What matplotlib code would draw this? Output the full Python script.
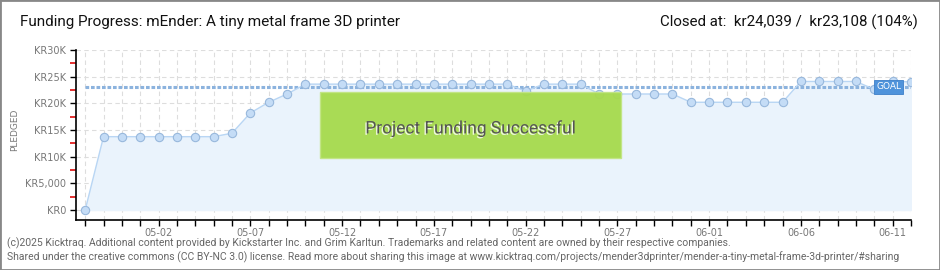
import numpy as np
import pandas as pd
import matplotlib
matplotlib.use("Agg")
import matplotlib.pyplot as plt
import matplotlib.patches as mpatches
import matplotlib.patheffects as pe
from matplotlib.ticker import FixedLocator

# ---- data ----
dates = pd.date_range("2025-04-28", "2025-06-12", freq="D")
pledged = [
    0, 13750, 13750, 13750, 13750, 13750, 13750, 13750, 14400, 18200,
    20200, 21750, 23600, 23600, 23600, 23600, 23600, 23600, 23600, 23600,
    23600, 23600, 23600, 23600, 22300, 23600, 23600, 23600, 21750, 21750,
    21750, 21750, 21750, 20200, 20200, 20200, 20200, 20200, 20200, 24100,
    24100, 24100, 24100, 22600, 24100, 24039,
]
goal = 23108
ytick_vals = [0, 5000, 10000, 15000, 20000, 25000, 30000]
ytick_labels = ["KR0", "KR5,000", "KR10K", "KR15K", "KR20K", "KR25K", "KR30K"]
ytick_minor = [2500, 7500, 12500, 17500, 22500, 27500]
xlabel_every = 5
title = "Funding Progress: mEnder: A tiny metal frame 3D printer"
closed = "Closed at:  kr24,039 /  kr23,108 (104%)"
footer1 = ("(c)2025 Kicktraq. Additional content provided by Kickstarter Inc. and Grim Karltun. "
           "Trademarks and related content are owned by their respective companies.")
footer2 = ("Shared under the creative commons (CC BY-NC 3.0) license. Read more about sharing this image at "
           "www.kicktraq.com/projects/mender3dprinter/mender-a-tiny-metal-frame-3d-printer/#sharing")

plt.rcParams.update({
    "font.family": ["Roboto", "DejaVu Sans"],
    "figure.facecolor": "white",
    "axes.facecolor": "white",
})

fig = plt.figure(figsize=(9.4, 2.7), dpi=100)
ax = fig.add_axes([76 / 940, 1 - 220 / 270, (911 - 76) / 940, 170 / 270])

x = np.arange(len(dates))

# fill + line + markers
ax.fill_between(x, pledged, 0, color="#eaf3fc", zorder=1)
ax.plot(x, pledged, color="#b9d6f4", linewidth=1, zorder=3)
ax.plot(x, pledged, "o", markersize=6, markerfacecolor="#c4dcf6",
        markeredgecolor="#98b8dc", markeredgewidth=0.8, zorder=4)

# goal line
ax.plot([x[0], x[-1]], [goal, goal], color="#8cb3de", linewidth=2.2,
        linestyle=(0, (1.2, 0.6)), zorder=2)
ax.text(x[-2] - 0.9, goal, "GOAL", fontsize=6.5, color="white",
        family="DejaVu Sans", ha="left", va="center", zorder=6,
        bbox=dict(boxstyle="square,pad=0.25", fc="#4f93db", ec="#3d7fc8", lw=0.6))

# success banner
ax.add_patch(mpatches.Rectangle((12.8, 9800), 16.4, 12400, transform=ax.transData,
                                facecolor="#a6da4c", edgecolor="#c2e585", lw=1,
                                alpha=0.95, zorder=5))
ax.text(21.0, 15300, "Project Funding Successful", ha="center", va="center",
        fontsize=12.5, color="#555555", zorder=6,
        path_effects=[pe.withSimplePatchShadow(offset=(-1, -1), shadow_rgbFace="white", alpha=0.8)])

# axes styling
ax.set_xlim(-0.5, x[-1])
ax.set_ylim(-1875, 30000)
for s in ["top", "right"]:
    ax.spines[s].set_visible(False)
ax.spines["left"].set_linewidth(1.2)
ax.spines["bottom"].set_linewidth(1.2)

ax.xaxis.set_major_locator(FixedLocator(x))
ax.set_xticklabels([d.strftime("%m-%d") if (i - 4) % xlabel_every == 0 else ""
                    for i, d in enumerate(dates)])
ax.tick_params(axis="x", length=4, width=1, labelsize=7, labelcolor="#777777", pad=2)
ax.set_yticks(ytick_vals)
ax.set_yticklabels(ytick_labels)
ax.yaxis.set_minor_locator(FixedLocator(ytick_minor))
ax.tick_params(axis="y", which="major", length=4, width=1, labelsize=7,
               labelcolor="#777777", pad=3)
ax.tick_params(axis="y", which="minor", length=4, width=1.3, color="#e02020")
for lab in ax.get_yticklabels() + ax.get_xticklabels():
    lab.set_family("DejaVu Sans")

ax.grid(True, which="major", color="#dddddd", linestyle=(0, (4, 3)), linewidth=0.8)
ax.set_axisbelow(True)

fig.text(15 / 940, 1 - 130 / 270, "PLEDGED", rotation=90, ha="center", va="center",
         fontsize=6.5, color="#777777", family="DejaVu Sans")

# titles
fig.text(20 / 940, 1 - 22 / 270, title, fontsize=11, color="#111111", va="center", ha="left")
fig.text(918 / 940, 1 - 22 / 270, closed, fontsize=10.8, color="#111111", va="center", ha="right")

# footer
fig.text(7 / 940, 1 - 243 / 270, footer1, fontsize=7.5, color="#666666", va="center")
fig.text(7 / 940, 1 - 257 / 270, footer2, fontsize=7.5, color="#666666", va="center")

# outer border
fig.add_artist(mpatches.Rectangle((0, 0), 1, 1, transform=fig.transFigure, fill=False,
                                  edgecolor="#888888", linewidth=2))

fig.savefig("out.png", dpi=100)
